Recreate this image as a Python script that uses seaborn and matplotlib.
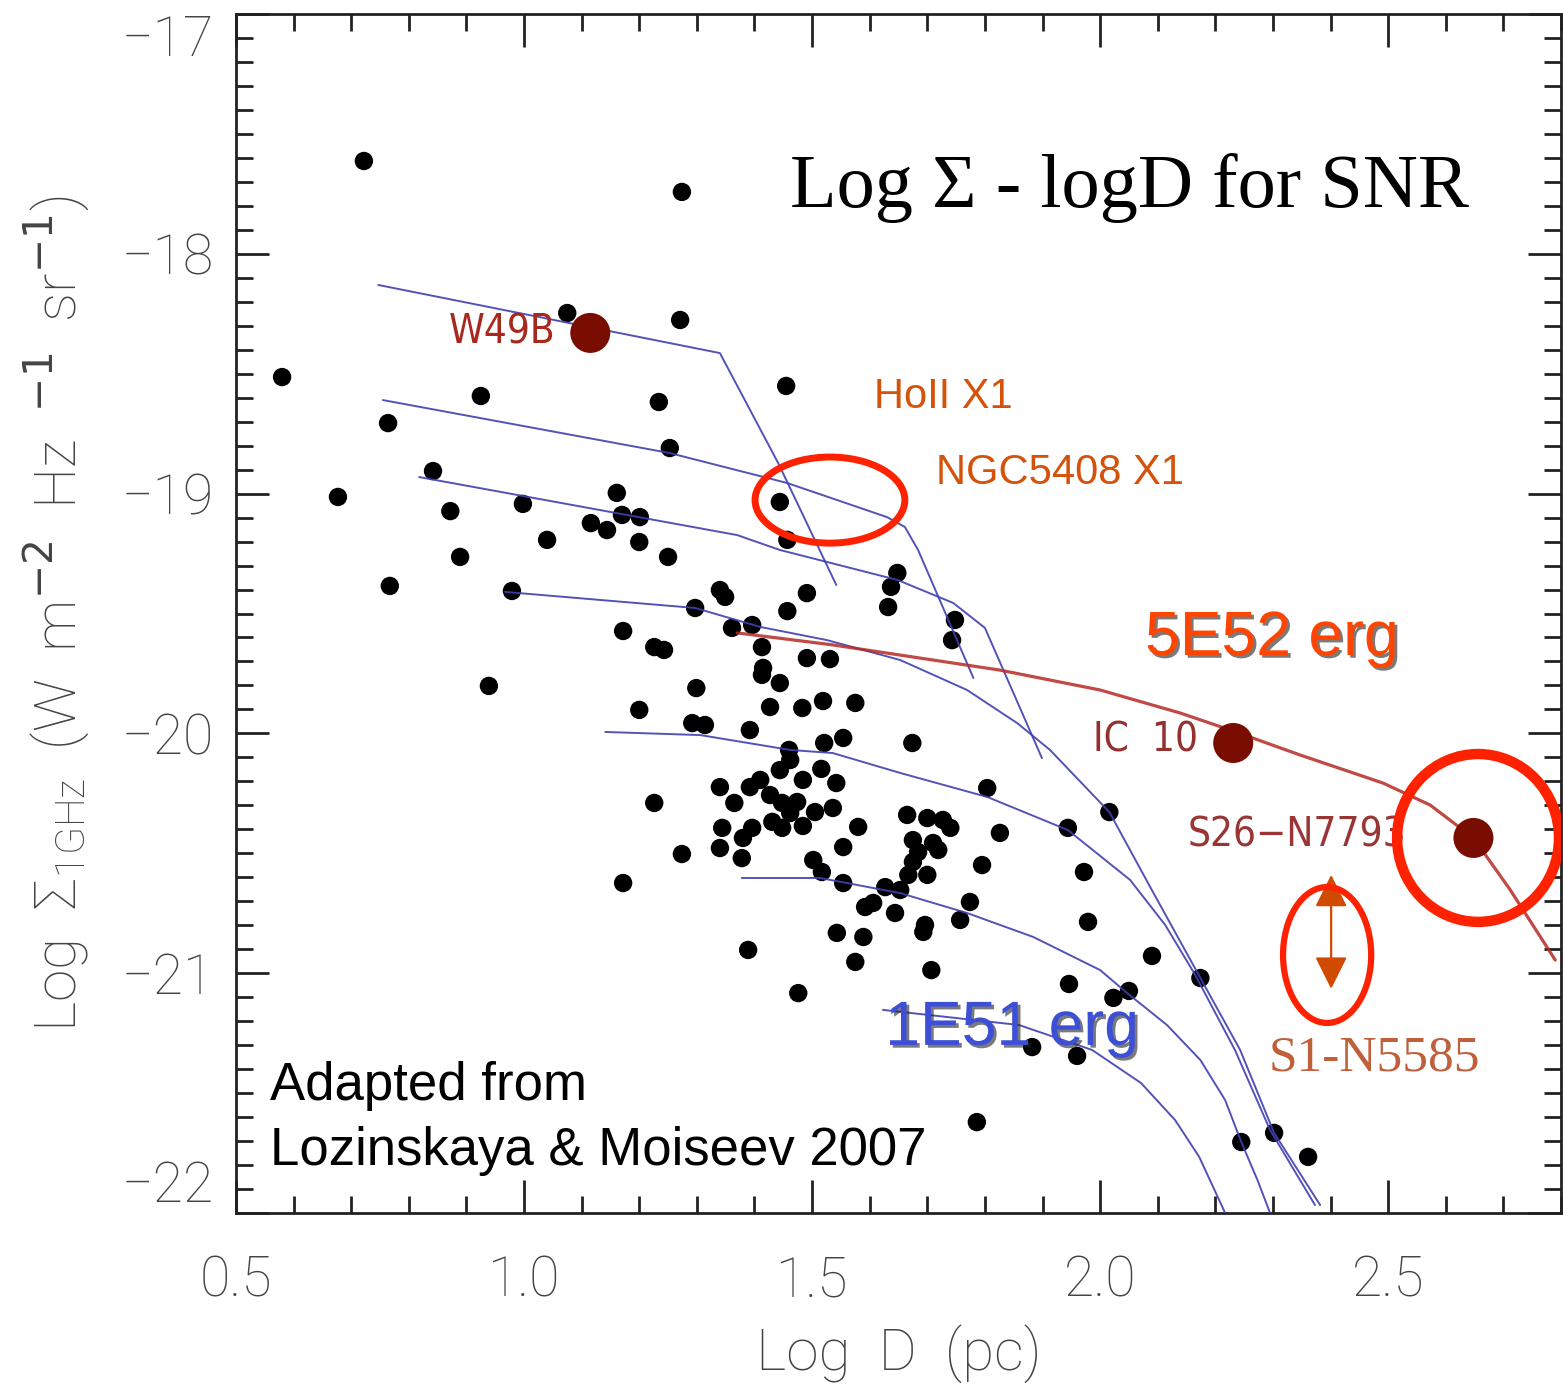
import numpy as np
import pandas as pd
import matplotlib
matplotlib.use("Agg")
import matplotlib.pyplot as plt
import matplotlib.patheffects as pe
from matplotlib.patches import Ellipse
from matplotlib.ticker import MultipleLocator
import seaborn as sns

# ---------------- data ----------------
snr_logd = [
    0.722, 1.274, 1.075, 1.271, 0.580, 0.925, 1.234, 1.455, 0.764, 1.253,
    0.842, 0.677, 0.872, 0.998, 1.161, 1.170, 1.201, 1.116, 1.144, 1.040,
    1.200, 0.889, 1.250, 1.444, 1.457, 0.767, 0.979, 1.340, 1.349, 1.297,
    1.361, 1.396, 1.172, 1.226, 1.243, 0.939, 1.299, 1.200, 1.292, 1.314,
    1.340, 1.226, 1.365, 1.344, 1.340, 1.274, 1.378, 1.172, 1.648, 1.637,
    1.632, 1.491, 1.457, 1.748, 1.743, 1.413, 1.491, 1.531, 1.415, 1.413,
    1.444, 1.427, 1.483, 1.519, 1.575, 1.392, 1.521, 1.554, 1.674, 1.460,
    1.462, 1.516, 1.410, 1.392, 1.444, 1.484, 1.542, 1.427, 1.448, 1.474,
    1.462, 1.505, 1.536, 1.804, 1.665, 1.700, 1.727, 1.740, 1.396, 1.380,
    1.431, 1.448, 1.484, 1.580, 1.944, 1.826, 1.675, 1.710, 1.719, 1.684,
    1.554, 1.502, 1.517, 1.675, 1.667, 1.700, 1.795, 1.972, 1.554, 1.627,
    1.653, 1.592, 1.606, 1.644, 1.774, 1.757, 1.696, 1.693, 1.979, 1.543,
    1.589, 1.389, 1.575, 1.707, 1.946, 1.476, 1.882, 1.960, 1.786, 2.016,
    2.090, 2.174, 2.023, 2.050, 2.245, 2.302, 2.361,
]
snr_logsigma = [
    -17.613, -17.742, -18.247, -18.276, -18.514, -18.593, -18.618, -18.551, -18.706, -18.810,
    -18.906, -19.014, -19.073, -19.043, -18.997, -19.089, -19.098, -19.123, -19.152, -19.193,
    -19.202, -19.264, -19.264, -19.035, -19.193, -19.385, -19.406, -19.402, -19.431, -19.477,
    -19.560, -19.548, -19.573, -19.640, -19.652, -19.802, -19.811, -19.902, -19.957, -19.965,
    -20.224, -20.290, -20.290, -20.394, -20.478, -20.503, -20.520, -20.624, -19.331, -19.389,
    -19.473, -19.415, -19.490, -19.527, -19.611, -19.640, -19.686, -19.690, -19.727, -19.756,
    -19.790, -19.890, -19.894, -19.865, -19.873, -19.986, -20.040, -20.019, -20.040, -20.069,
    -20.111, -20.148, -20.194, -20.224, -20.153, -20.194, -20.207, -20.257, -20.290, -20.286,
    -20.332, -20.328, -20.311, -20.228, -20.340, -20.353, -20.361, -20.394, -20.394, -20.436,
    -20.369, -20.394, -20.386, -20.390, -20.394, -20.415, -20.445, -20.457, -20.486, -20.495,
    -20.474, -20.528, -20.578, -20.536, -20.590, -20.590, -20.549, -20.578, -20.624, -20.641,
    -20.653, -20.724, -20.707, -20.749, -20.703, -20.778, -20.799, -20.828, -20.786, -20.832,
    -20.849, -20.903, -20.953, -20.987, -21.045, -21.083, -21.308, -21.345, -21.621, -20.328,
    -20.928, -21.020, -21.103, -21.074, -21.704, -21.666, -21.766,
]

special_names = ["W49B", "IC  10", "S26\u2212N7793"]
special_logd = [1.115, 2.231, 2.648]
special_logsigma = [-18.330, -20.040, -20.436]

# 1E51 erg model tracks (blue)
track_a_x = [0.747, 1.340, 1.441, 1.542]
track_a_y = [-18.130, -18.414, -18.872, -19.381]
track_b_x = [0.755, 1.253, 1.457, 1.630, 1.661, 1.684, 1.780]
track_b_y = [-18.610, -18.831, -18.956, -19.098, -19.139, -19.235, -19.769]
track_c_x = [0.818, 1.370, 1.444, 1.648, 1.745, 1.800, 1.899]
track_c_y = [-18.931, -19.173, -19.235, -19.360, -19.456, -19.560, -20.103]
track_d_x = [0.967, 1.297, 1.410, 1.526, 1.653, 1.769, 1.856, 1.913, 2.016, 2.087, 2.174, 2.243, 2.302, 2.382]
track_d_y = [-19.410, -19.477, -19.556, -19.611, -19.694, -19.819, -19.957, -20.069, -20.328, -20.641, -21.020, -21.320, -21.666, -21.967]
track_e_x = [1.141, 1.306, 1.462, 1.536, 1.653, 1.804, 1.944, 2.052, 2.113, 2.165, 2.234, 2.295, 2.373]
track_e_y = [-19.994, -20.007, -20.069, -20.082, -20.165, -20.265, -20.403, -20.611, -20.799, -21.007, -21.320, -21.654, -21.967]
track_f_x = [1.378, 1.514, 1.653, 1.769, 1.884, 2.000, 2.047, 2.116, 2.174, 2.217, 2.245, 2.273, 2.295]
track_f_y = [-20.603, -20.603, -20.666, -20.749, -20.849, -20.987, -21.083, -21.216, -21.362, -21.529, -21.704, -21.862, -22.000]
track_g_x = [1.623, 1.859, 1.986, 2.071, 2.130, 2.172, 2.217]
track_g_y = [-21.153, -21.216, -21.320, -21.458, -21.612, -21.766, -22.000]

# 5E52 erg model track (red)
track_hi_x = [1.370, 1.536, 1.710, 1.826, 2.000, 2.139, 2.231, 2.347, 2.491, 2.573, 2.648, 2.712, 2.790]
track_hi_y = [-19.581, -19.631, -19.694, -19.736, -19.819, -19.915, -19.990, -20.090, -20.207, -20.299, -20.436, -20.653, -20.945]

# ---------------- style ----------------
sns.set_style("ticks")
plt.rcParams["font.family"] = ["DejaVu Sans"]
plt.rcParams["axes.unicode_minus"] = True

fig = plt.figure(figsize=(15.63, 13.90), dpi=100)
W, H = 1563.0, 1390.0
ax = fig.add_axes([236 / W, 1 - 1213 / H, (1561 - 236) / W, (1213 - 14) / H])

# points
sns.scatterplot(x=snr_logd, y=snr_logsigma, s=175, color="black",
                edgecolor="none", linewidth=0, ax=ax, legend=False, zorder=2)

# blue tracks
tracks = [(track_a_x, track_a_y), (track_b_x, track_b_y), (track_c_x, track_c_y),
          (track_d_x, track_d_y), (track_e_x, track_e_y), (track_f_x, track_f_y),
          (track_g_x, track_g_y)]
rows = []
for i, (tx, ty) in enumerate(tracks):
    for xv, yv in zip(tx, ty):
        rows.append({"track": i, "logd": xv, "logsigma": yv})
tdf = pd.DataFrame(rows)
sns.lineplot(data=tdf, x="logd", y="logsigma", units="track", estimator=None,
             sort=False, color="#4040b0", linewidth=1.4, alpha=0.9, ax=ax,
             legend=False, zorder=3)

# red track
sns.lineplot(x=track_hi_x, y=track_hi_y, sort=False, estimator=None,
             color="#b52a25", linewidth=2.3, alpha=0.85, ax=ax, legend=False, zorder=3)

# special objects
sns.scatterplot(x=special_logd, y=special_logsigma, s=830, color="#7a0d02",
                edgecolor="none", linewidth=0, ax=ax, legend=False, zorder=4)

# ---------------- axes ----------------
ax.set_xlim(0.5, 2.8)
ax.set_ylim(-22, -17)
ax.xaxis.set_major_locator(MultipleLocator(0.5))
ax.xaxis.set_minor_locator(MultipleLocator(0.1))
ax.yaxis.set_major_locator(MultipleLocator(1.0))
ax.yaxis.set_minor_locator(MultipleLocator(0.1))
ax.xaxis.set_major_formatter(plt.FuncFormatter(lambda v, p: f"{v:.1f}"))
ax.yaxis.set_major_formatter(plt.FuncFormatter(lambda v, p: f"\u2212{abs(v):.0f}"))

tick_color = "#444444"
axis_font = ["Roboto", "DejaVu Sans"]
ax.tick_params(which="both", direction="in", top=True, right=True,
               color="#222222", width=2, labelcolor=tick_color, labelsize=40)
ax.tick_params(which="major", length=24)
ax.tick_params(which="minor", length=12)
ax.tick_params(axis="x", which="major", pad=30)
ax.tick_params(axis="y", which="major", pad=16)
for sp in ax.spines.values():
    sp.set_linewidth(2)
    sp.set_color("#222222")

ax.set_xlabel("Log  D  (pc)", fontsize=42, color=tick_color, labelpad=12,
              family=axis_font, fontweight="light")
ax.set_ylabel(r"Log  $\mathregular{\Sigma_{1GHz}}$  (W  m$^{-2}$  Hz  $^{-1}$  sr$^{-1}$)",
              fontsize=42, color=tick_color, labelpad=22,
              family=axis_font, fontweight="light")

fig.canvas.draw()
for t in ax.yaxis.get_major_ticks():
    loc = t.get_loc()
    t.label1.set_family(axis_font)
    t.label1.set_fontweight("light")
    if abs(loc + 17) < 1e-6:
        t.label1.set_verticalalignment("top")
    if abs(loc + 22) < 1e-6:
        t.label1.set_verticalalignment("bottom")
for t in ax.xaxis.get_major_ticks():
    t.label1.set_family(axis_font)
    t.label1.set_fontweight("light")

# ---------------- annotations ----------------
ax.text(1.462, -17.805, "Log \u03a3 - logD for SNR", family="Liberation Serif",
        fontsize=55, color="black", ha="left", va="baseline")

lab_kw = dict(family="DejaVu Sans", fontstretch="condensed", fontsize=29, va="center")
ax.text(1.054, -18.33, special_names[0], color="#a8281e", ha="right", **lab_kw)
ax.text(2.170, -20.028, special_names[1], color="#953030", ha="right", **lab_kw)
ax.text(2.532, -20.424, special_names[2], color="#9a3535", ha="right", zorder=1, **lab_kw)

ax.text(1.608, -18.597, "HoII X1", family="Liberation Sans", fontsize=30,
        color="#d4520a", ha="left", va="center")
ax.text(1.715, -18.914, "NGC5408 X1", family="Liberation Sans", fontsize=30,
        color="#d4520a", ha="left", va="center")

shadow = [pe.withSimplePatchShadow(offset=(2, -2), shadow_rgbFace="#222222", alpha=0.6)]
ax.text(2.078, -19.673, "5E52 erg", family="Liberation Sans", fontsize=45,
        color="#ff4500", ha="left", va="baseline", path_effects=shadow, zorder=7)
ax.text(1.627, -21.299, "1E51 erg", family="Liberation Sans", fontsize=45,
        color="#3d4fd6", ha="left", va="baseline", path_effects=shadow, zorder=7)

ax.text(2.292, -21.354, "S1-N5585", family="Liberation Serif", fontsize=37,
        color="#c0603a", ha="left", va="center")

ax.text(0.559, -21.529, "Adapted from", family="Liberation Sans", fontsize=38,
        color="black", ha="left", va="baseline")
ax.text(0.559, -21.800, "Lozinskaya & Moiseev 2007", family="Liberation Sans",
        fontsize=38, color="black", ha="left", va="baseline")

# red highlight rings
ring = "#ff2200"
ax.add_patch(Ellipse((1.531, -19.027), 0.260, 0.359, fill=False, ec=ring, lw=5, zorder=6))
ax.add_patch(Ellipse((2.656, -20.436), 0.281, 0.700, fill=False, ec=ring, lw=7.5, zorder=6))
ax.add_patch(Ellipse((2.394, -20.924), 0.153, 0.567, fill=False, ec=ring, lw=4.5, zorder=6))

# upper-limit double arrow
ax.annotate("", xy=(2.401, -21.065), xytext=(2.401, -20.59),
            arrowprops=dict(arrowstyle="<|-|>,head_length=1.0,head_width=0.5",
                            color="#d04a00", lw=1.6, mutation_scale=20,
                            shrinkA=0, shrinkB=0), zorder=5)

fig.savefig("out.png", dpi=100)
